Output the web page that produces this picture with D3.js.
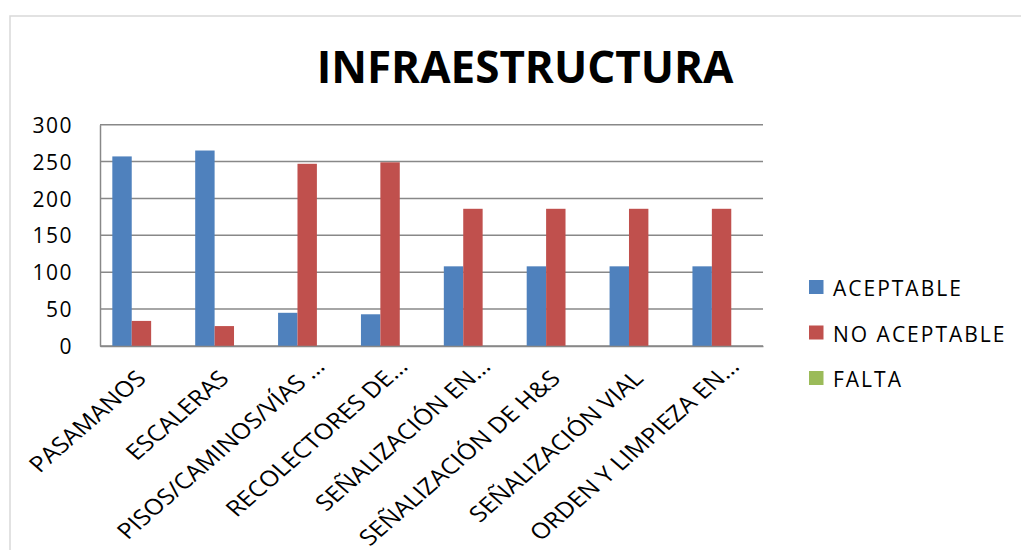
<!DOCTYPE html>
<html>
<head>
<meta charset="utf-8">
<script src="https://cdn.jsdelivr.net/npm/d3@7"></script>
<style>
  body { margin: 0; background: #fff; }
  text { font-family: "Open Sans", sans-serif; fill: #000; }
</style>
</head>
<body>
<svg id="chart" width="1021" height="550"></svg>
<script>
// datos del gráfico
var categories = ['PASAMANOS', 'ESCALERAS', 'PISOS/CAMINOS/VÍAS …', 'RECOLECTORES DE…',
  'SEÑALIZACIÓN EN…', 'SEÑALIZACIÓN DE H&S', 'SEÑALIZACIÓN VIAL', 'ORDEN Y LIMPIEZA EN…'];
var seriesNames = ['ACEPTABLE', 'NO ACEPTABLE', 'FALTA'];
var aceptable = [257, 265, 45, 43, 108, 108, 108, 108];
var noAceptable = [34, 27, 247, 249, 186, 186, 186, 186];
var falta = [0, 0, 0, 0, 0, 0, 0, 0];
var yTicks = [0, 50, 100, 150, 200, 250, 300];
var colors = ['#4F81BD', '#C0504D', '#9BBB59'];

var seriesValues = [aceptable, noAceptable, falta];

var svg = d3.select('#chart');

// marco
svg.append('rect')
  .attr('x', 10).attr('y', 16)
  .attr('width', 1100).attr('height', 700)
  .attr('fill', 'none')
  .attr('stroke', '#d9d9d9')
  .attr('stroke-width', 1.5);

// titulo
svg.append('text')
  .attr('x', 525).attr('y', 83)
  .attr('text-anchor', 'middle')
  .style('font-size', '44px')
  .style('font-weight', 'bold')
  .text('INFRAESTRUCTURA');

var x0 = d3.scaleBand().domain(categories).range([100, 763]);
var x1 = d3.scaleBand().domain(seriesNames).range([0, x0.bandwidth()]).paddingOuter(0.635);
var y = d3.scaleLinear().domain([0, 300]).range([346, 124.7]);

// lineas de cuadricula
svg.append('g')
  .selectAll('line')
  .data(yTicks)
  .join('line')
  .attr('x1', 100).attr('x2', 763)
  .attr('y1', function(d){ return y(d); })
  .attr('y2', function(d){ return y(d); })
  .attr('stroke', '#888')
  .attr('stroke-width', 1.5);

// eje y
var yAxis = svg.append('g')
  .attr('transform', 'translate(100,0)')
  .call(d3.axisLeft(y).tickValues(yTicks).tickSize(0).tickPadding(27));
yAxis.select('.domain').attr('stroke', '#888').attr('stroke-width', 1.5);
yAxis.selectAll('text')
  .style('font-size', '21px')
  .style('letter-spacing', '1.5px')
  .style('font-family', '"Open Sans", sans-serif')
  .attr('dy', '0.36em');

// barras
var groups = svg.append('g')
  .selectAll('g')
  .data(categories)
  .join('g')
  .attr('transform', function(d){ return 'translate(' + x0(d) + ',0)'; });

groups.selectAll('rect')
  .data(function(d, i){
    return seriesNames.map(function(s, j){ return {name: s, value: seriesValues[j][i], idx: j}; });
  })
  .join('rect')
  .attr('x', function(d){ return x1(d.name); })
  .attr('width', x1.bandwidth())
  .attr('y', function(d){ return y(d.value); })
  .attr('height', function(d){ return y(0) - y(d.value); })
  .attr('fill', function(d){ return colors[d.idx]; });

// eje x
var xAxis = svg.append('g')
  .attr('transform', 'translate(0,346)')
  .call(d3.axisBottom(x0).tickSize(0).tickFormat(''));
xAxis.select('.domain').attr('stroke', '#888').attr('stroke-width', 1.5);

// la imagen original está estirada en horizontal: scale(1.15,1)
// etiquetas recortadas (con …) quedan un poco más arriba, como en Excel
svg.append('g')
  .selectAll('text')
  .data(categories)
  .join('text')
  .attr('transform', function(d){
    var cx = x0(d) + x0.bandwidth()/2;
    var cut = d.slice(-1) === '…';
    return 'translate(' + (cx + (cut ? 19 : 6)) + ',' + (cut ? 368 : 380) + ') scale(1.15,1) rotate(-45)';
  })
  .attr('text-anchor', 'end')
  .style('font-size', '22px')
  .text(function(d){ return d; });

// leyenda
var legend = svg.append('g')
  .selectAll('g')
  .data(seriesNames)
  .join('g')
  .attr('transform', function(d, i){ return 'translate(809,' + (280 + i*45.5) + ')'; });

legend.append('rect')
  .attr('width', 14.5).attr('height', 14)
  .attr('fill', function(d, i){ return colors[i]; });

legend.append('text')
  .attr('x', 24).attr('y', 16)
  .style('font-size', '21px')
  .style('letter-spacing', '2px')
  .text(function(d){ return d; });
</script>
</body>
</html>
